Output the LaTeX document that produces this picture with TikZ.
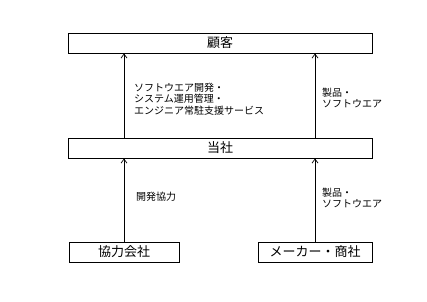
\documentclass[tikz,border=0pt]{standalone}
\usepackage{fontspec}
\setmainfont{Noto Sans CJK JP}
\usepackage{tikz}
\usetikzlibrary{positioning,arrows.meta}

\begin{document}
\begin{tikzpicture}[x=1pt, y=1pt, >={Straight Barb[length=4pt,width=6pt]}]
\tikzset{party/.style={draw, line width=1pt, inner sep=0pt, minimum height=20pt, font=\fontsize{13}{15}\selectfont},
         flow/.style={->, line width=0.7pt},
         lbl/.style={anchor=west, align=left, inner sep=0pt, font=\fontsize{10}{11.5}\selectfont}}
\useasboundingbox (0,0) rectangle (427,301);
\node[party, minimum width=304pt] (kokyaku) at (220,258) {顧客};
\node[party, minimum width=304pt] (tosha)   at (220,153) {当社};
\node[party, minimum width=110pt] (kyoryoku) at (124,49) {協力会社};
\node[party, minimum width=114pt] (maker)    at (315,49) {メーカー・商社};
% flows
\draw[flow] (tosha.north -| kyoryoku.north) -- (kokyaku.south -| kyoryoku.north);
\draw[flow] (tosha.north -| maker.north) -- (kokyaku.south -| maker.north);
\draw[flow] (kyoryoku.north) -- (tosha.south -| kyoryoku.north);
\draw[flow] (maker.north) -- (tosha.south -| maker.north);
% labels
\node[lbl] (svc)  at (134,202) {ソフトウエア開発・\\システム運用管理・\\エンジニア常駐支援サービス};
\node[lbl] (prod1) at (322,203) {製品・\\ソフトウエア};
\node[lbl] (dev)   at (136,104) {開発協力};
\node[lbl] (prod2) at (322,103) {製品・\\ソフトウエア};
\end{tikzpicture}
\end{document}
